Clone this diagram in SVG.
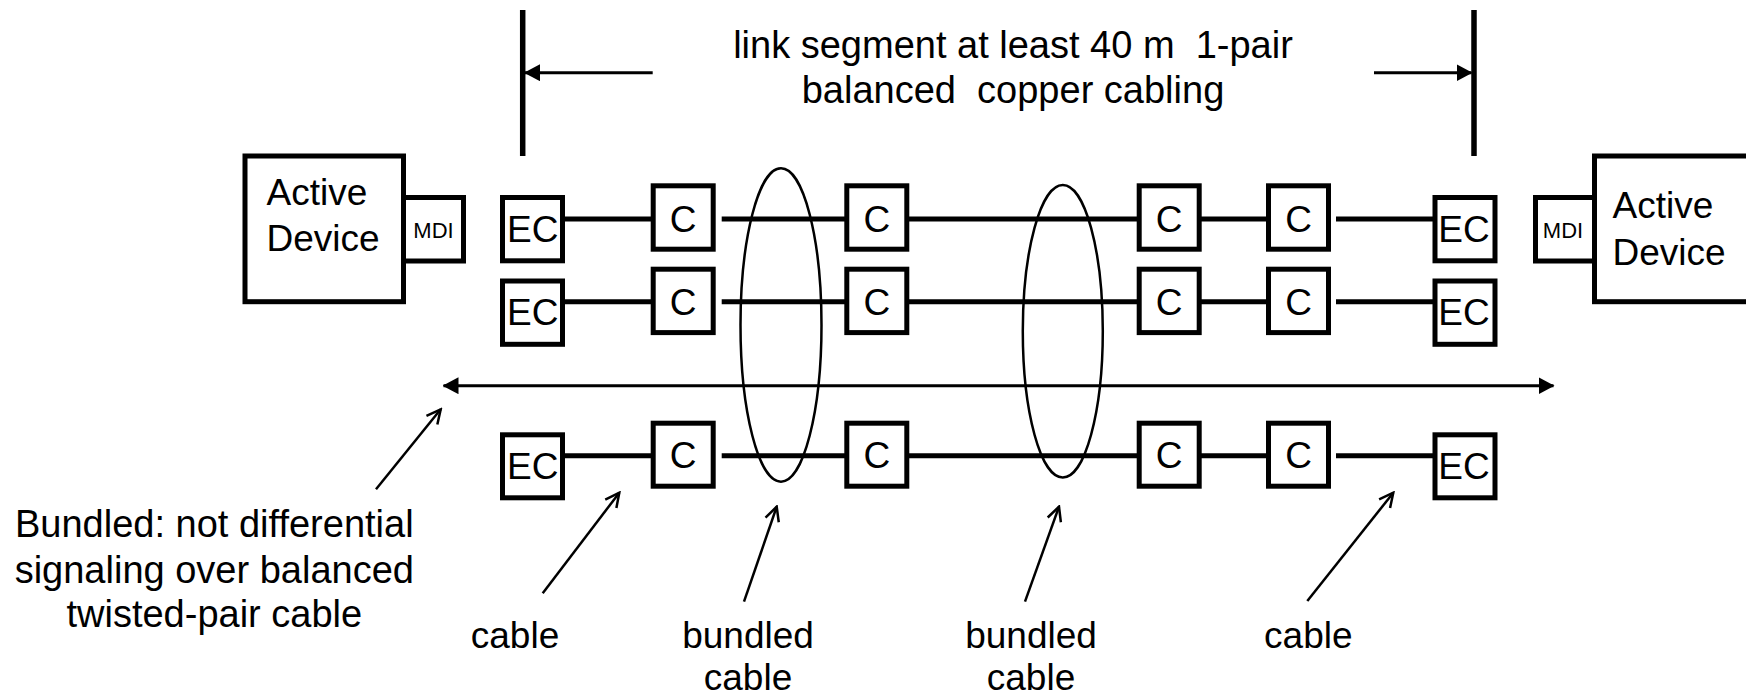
<svg xmlns="http://www.w3.org/2000/svg" width="1746" height="698" viewBox="0 0 1746 698">
<style>
  .box { fill: #fff; stroke: #000; stroke-width: 5; }
  .t { font-family: "Liberation Sans", Arial, sans-serif; fill: #000; }
  .lbl { font-size: 37px; text-anchor: middle; }
  .mdi { font-size: 22px; text-anchor: middle; }
  .big { font-size: 38px; }
  .wire { stroke: #000; stroke-width: 5; fill: none; }
  .dim { stroke: #000; stroke-width: 5.5; fill: none; }
  .darr { stroke: #000; stroke-width: 3; fill: none; }
  .ell { stroke: #000; stroke-width: 2.5; fill: none; }
  .ptr { stroke: #000; stroke-width: 2.5; fill: none; }
</style>
<defs>
  <marker id="arrF" markerUnits="userSpaceOnUse" markerWidth="16" markerHeight="17" refX="15" refY="8.5" orient="auto-start-reverse">
    <path d="M0,0 L16,8.5 L0,17 z" fill="#000"/>
  </marker>
  <marker id="arrO" markerUnits="userSpaceOnUse" markerWidth="18" markerHeight="18" refX="16" refY="9" orient="auto">
    <path d="M2,2 L16,9 L2,16" fill="none" stroke="#000" stroke-width="2.5"/>
  </marker>
</defs>
<rect width="1746" height="698" fill="#fff"/>

<g id="connectors">
  <line class="dim" x1="522.7" y1="10" x2="522.7" y2="156"/>
  <line class="dim" x1="1474" y1="10" x2="1474" y2="156"/>
  <line class="darr" x1="652.7" y1="72.7" x2="525" y2="72.7" marker-end="url(#arrF)"/>
  <line class="darr" x1="1374" y1="72.7" x2="1471.5" y2="72.7" marker-end="url(#arrF)"/>
  <line class="darr" x1="443.5" y1="385.7" x2="1553.5" y2="385.7" marker-start="url(#arrF)" marker-end="url(#arrF)"/>
  <line class="wire" x1="565" y1="219" x2="651" y2="219"/>
  <line class="wire" x1="721.7" y1="219" x2="845" y2="219"/>
  <line class="wire" x1="909" y1="219" x2="1137" y2="219"/>
  <line class="wire" x1="1201" y1="219" x2="1266.5" y2="219"/>
  <line class="wire" x1="1336" y1="219" x2="1433" y2="219"/>
  <line class="wire" x1="565" y1="301.7" x2="651" y2="301.7"/>
  <line class="wire" x1="721.7" y1="301.7" x2="845" y2="301.7"/>
  <line class="wire" x1="909" y1="301.7" x2="1137" y2="301.7"/>
  <line class="wire" x1="1201" y1="301.7" x2="1266.5" y2="301.7"/>
  <line class="wire" x1="1336" y1="301.7" x2="1433" y2="301.7"/>
  <line class="wire" x1="565" y1="455.7" x2="651" y2="455.7"/>
  <line class="wire" x1="721.7" y1="455.7" x2="845" y2="455.7"/>
  <line class="wire" x1="909" y1="455.7" x2="1137" y2="455.7"/>
  <line class="wire" x1="1201" y1="455.7" x2="1266.5" y2="455.7"/>
  <line class="wire" x1="1336" y1="455.7" x2="1433" y2="455.7"/>
  <line class="ptr" x1="376" y1="489.3" x2="440.7" y2="409.3" marker-end="url(#arrO)"/>
  <line class="ptr" x1="542.7" y1="593.3" x2="619.3" y2="492.7" marker-end="url(#arrO)"/>
  <line class="ptr" x1="744" y1="601.7" x2="776.7" y2="506.7" marker-end="url(#arrO)"/>
  <line class="ptr" x1="1025" y1="601.7" x2="1059" y2="506.7" marker-end="url(#arrO)"/>
  <line class="ptr" x1="1307.3" y1="601" x2="1393.3" y2="492.7" marker-end="url(#arrO)"/>
</g>

<g id="dev-left">
  <rect class="box" x="245" y="156" width="158.5" height="145.7"/>
  <text class="t" font-size="37" x="266.5" y="205">Active</text>
  <text class="t" font-size="37" x="266.5" y="250.7">Device</text>
</g>
<g id="mdi-left">
  <rect class="box" x="403.5" y="197.5" width="60" height="63.5"/>
  <text class="t mdi" x="433.5" y="238.3">MDI</text>
</g>
<g id="dev-right">
  <rect class="box" x="1594.5" y="156" width="200" height="145.7"/>
  <text class="t" font-size="37" x="1612.5" y="218.3">Active</text>
  <text class="t" font-size="37" x="1612.5" y="265">Device</text>
</g>
<g id="mdi-right">
  <rect class="box" x="1535.5" y="197.5" width="59" height="63.5"/>
  <text class="t mdi" x="1563" y="238.3">MDI</text>
</g>

<g id="ec-l1"><rect class="box" x="502.5" y="197.5" width="60" height="63.3"/><text class="t lbl" x="532.7" y="241.7">EC</text></g>
<g id="c1-1"><rect class="box" x="653.2" y="185.8" width="60" height="63.4"/><text class="t lbl" x="683.2" y="231.7">C</text></g>
<g id="c2-1"><rect class="box" x="846.8" y="185.8" width="60" height="63.4"/><text class="t lbl" x="876.8" y="231.7">C</text></g>
<g id="c3-1"><rect class="box" x="1139.2" y="185.8" width="60" height="63.4"/><text class="t lbl" x="1169.2" y="231.7">C</text></g>
<g id="c4-1"><rect class="box" x="1268.5" y="185.8" width="60" height="63.4"/><text class="t lbl" x="1298.5" y="231.7">C</text></g>
<g id="ec-r1"><rect class="box" x="1435" y="197.5" width="60" height="63.3"/><text class="t lbl" x="1464" y="241.7">EC</text></g>

<g id="ec-l2"><rect class="box" x="502.5" y="281" width="60" height="63.3"/><text class="t lbl" x="532.7" y="325">EC</text></g>
<g id="c1-2"><rect class="box" x="653.2" y="269.2" width="60" height="63.4"/><text class="t lbl" x="683.2" y="315">C</text></g>
<g id="c2-2"><rect class="box" x="846.8" y="269.2" width="60" height="63.4"/><text class="t lbl" x="876.8" y="315">C</text></g>
<g id="c3-2"><rect class="box" x="1139.2" y="269.2" width="60" height="63.4"/><text class="t lbl" x="1169.2" y="315">C</text></g>
<g id="c4-2"><rect class="box" x="1268.5" y="269.2" width="60" height="63.4"/><text class="t lbl" x="1298.5" y="315">C</text></g>
<g id="ec-r2"><rect class="box" x="1435" y="281" width="60" height="63.3"/><text class="t lbl" x="1464" y="325">EC</text></g>

<g id="ec-l3"><rect class="box" x="502.5" y="434.8" width="60" height="63"/><text class="t lbl" x="532.7" y="479">EC</text></g>
<g id="c1-3"><rect class="box" x="653.2" y="423.2" width="60" height="63"/><text class="t lbl" x="683.2" y="468.3">C</text></g>
<g id="c2-3"><rect class="box" x="846.8" y="423.2" width="60" height="63"/><text class="t lbl" x="876.8" y="468.3">C</text></g>
<g id="c3-3"><rect class="box" x="1139.2" y="423.2" width="60" height="63"/><text class="t lbl" x="1169.2" y="468.3">C</text></g>
<g id="c4-3"><rect class="box" x="1268.5" y="423.2" width="60" height="63"/><text class="t lbl" x="1298.5" y="468.3">C</text></g>
<g id="ec-r3"><rect class="box" x="1435" y="434.8" width="60" height="63"/><text class="t lbl" x="1464" y="479">EC</text></g>

<g id="bundle-1"><ellipse class="ell" cx="781" cy="325" rx="40.5" ry="156.7"/></g>
<g id="bundle-2"><ellipse class="ell" cx="1062.8" cy="331.3" rx="40" ry="146.3"/></g>

<g id="title">
  <text class="t big" text-anchor="middle" x="1013" y="58.3" xml:space="preserve">link segment at least 40 m  1-pair</text>
  <text class="t big" text-anchor="middle" x="1013" y="103.3" xml:space="preserve">balanced  copper cabling</text>
</g>
<g id="note-bundled">
  <text class="t big" text-anchor="middle" x="214.3" y="536.7">Bundled: not differential</text>
  <text class="t big" text-anchor="middle" x="214.3" y="582.7">signaling over balanced</text>
  <text class="t big" text-anchor="middle" x="214.3" y="627.3">twisted-pair cable</text>
</g>
<g id="label-cable-left"><text class="t lbl" x="515" y="648.3">cable</text></g>
<g id="label-bundled-1"><text class="t lbl" x="748" y="648.3">bundled</text><text class="t lbl" x="748" y="690">cable</text></g>
<g id="label-bundled-2"><text class="t lbl" x="1031" y="648.3">bundled</text><text class="t lbl" x="1031" y="690">cable</text></g>
<g id="label-cable-right"><text class="t lbl" x="1308.3" y="648.3">cable</text></g>
</svg>
